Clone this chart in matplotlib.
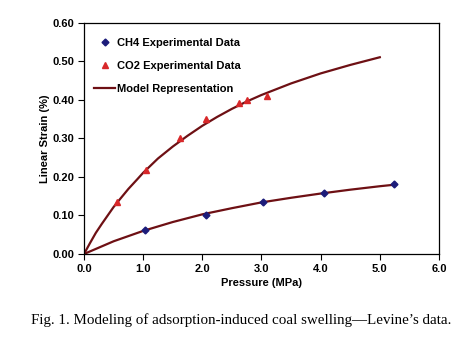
import numpy as np
import matplotlib
matplotlib.use("Agg")
from matplotlib import pyplot as plt

# measured swelling data
ch4_p = [1.03, 2.06, 3.03, 4.06, 5.24]
ch4_strain = [0.062, 0.102, 0.135, 0.158, 0.181]

co2_p = [0.55, 1.04, 1.62, 2.06, 2.62, 2.75, 3.10]
co2_strain = [0.134, 0.217, 0.300, 0.351, 0.393, 0.400, 0.410]

# model curves
co2_model_p = [0.0, 0.1, 0.2, 0.3, 0.4, 0.5, 0.6, 0.75, 0.9, 1.0, 1.25, 1.5, 1.75,
               2.0, 2.25, 2.5, 2.75, 3.0, 3.5, 4.0, 4.5, 5.0]
co2_model = [0.0, 0.028, 0.055, 0.078, 0.100, 0.122, 0.141, 0.169, 0.194, 0.211,
             0.248, 0.279, 0.307, 0.333, 0.356, 0.377, 0.396, 0.413, 0.443, 0.469,
             0.491, 0.511]

ch4_model_p = [0.0, 0.5, 1.0, 1.5, 2.0, 2.5, 3.0, 3.5, 4.0, 4.5, 5.0, 5.25]
ch4_model = [0.0, 0.033, 0.060, 0.083, 0.103, 0.119, 0.134, 0.146, 0.157, 0.167, 0.176, 0.180]

xticks = [0, 1, 2, 3, 4, 5, 6]
yticks = [0.0, 0.1, 0.2, 0.3, 0.4, 0.5, 0.6]

plt.rcParams['font.family'] = ['Liberation Sans', 'DejaVu Sans']

fig = plt.figure(figsize=(4.72, 3.43), dpi=100)
ax = fig.add_axes([0.178, 0.2595, 0.752, 0.6735])

line_col = '#6e1014'
ax.plot(co2_model_p, co2_model, color=line_col, lw=1.6, label='Model Representation', zorder=2)
ax.plot(ch4_model_p, ch4_model, color=line_col, lw=1.6, zorder=2)
ax.plot(ch4_p, ch4_strain, ls='none', marker='D', ms=3.5, color='#1c1c7a',
        label='CH4 Experimental Data', zorder=3)
ax.plot(co2_p, co2_strain, ls='none', marker='^', ms=4.5, color='#d8282a',
        label='CO2 Experimental Data', zorder=3)

ax.set_xlim(0, 6)
ax.set_ylim(0, 0.6)
ax.set_xticks(xticks)
ax.set_yticks(yticks)
ax.set_xticklabels(['%.1f' % v for v in xticks], fontweight='bold', fontsize=8)
ax.set_yticklabels(['%.2f' % v for v in yticks], fontweight='bold', fontsize=8)
ax.tick_params(direction='out', length=4, width=0.8, pad=3)
for s in ax.spines.values():
    s.set_linewidth(0.9)

ax.set_xlabel('Pressure (MPa)', fontweight='bold', fontsize=8, labelpad=3)
ax.set_ylabel('Linear Strain (%)', fontweight='bold', fontsize=8, labelpad=2)

h, l = ax.get_legend_handles_labels()
order = [1, 2, 0]
ax.legend([h[i] for i in order], [l[i] for i in order], loc='upper left',
          frameon=False, prop={'weight': 'bold', 'size': 8},
          handlelength=1.9, handletextpad=0.2, labelspacing=1.2,
          bbox_to_anchor=(0.0, 0.98))

fig.text(0.512, 0.067, "Fig. 1. Modeling of adsorption-induced coal swelling\u2014Levine\u2019s data.",
         ha='center', va='center', family='Liberation Serif', fontsize=10.8)

fig.savefig('out.png', dpi=100)
